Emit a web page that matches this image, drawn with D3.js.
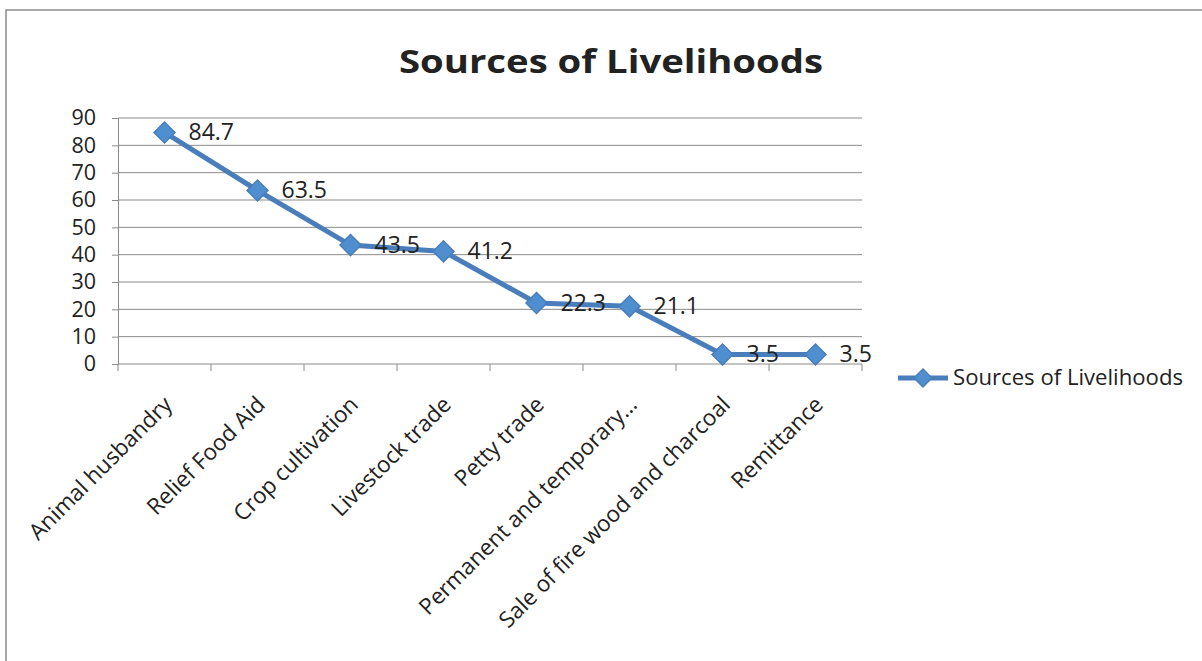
<!DOCTYPE html>
<html>
<head>
<meta charset="utf-8">
<script src="https://cdn.jsdelivr.net/npm/d3@7"></script>
<style>
  body { margin: 0; background: #fff; }
  svg { display: block; font-family: "Open Sans", "Noto Sans", sans-serif; }
</style>
</head>
<body>
<div id="chart"></div>
<script>
const categories = [
  'Animal husbandry', 'Relief Food Aid', 'Crop cultivation', 'Livestock trade',
  'Petty trade', 'Permanent and temporary…', 'Sale of fire wood and charcoal', 'Remittance'
];
const values = [84.7, 63.5, 43.5, 41.2, 22.3, 21.1, 3.5, 3.5];
const yTicks = [0, 10, 20, 30, 40, 50, 60, 70, 80, 90];
const seriesName = 'Sources of Livelihoods';

const width = 1202, height = 661;
const plot = { left: 118, right: 862, top: 118, bottom: 364 };
const blue = '#4a7ebb';

const svg = d3.select('#chart').append('svg')
  .attr('width', width)
  .attr('height', height);

// chart frame (only top/left edges are visible in the scan)
svg.append('path')
  .attr('d', `M6,661V10H1202`)
  .attr('fill', 'none')
  .attr('stroke', '#8c8c8c')
  .attr('stroke-width', 1.5);

svg.append('text')
  .attr('x', 611)
  .attr('y', 73)
  .attr('text-anchor', 'middle')
  .attr('font-size', 33)
  .attr('font-weight', 700)
  .attr('fill', '#222')
  .attr('textLength', 424)
  .attr('lengthAdjust', 'spacingAndGlyphs')
  .text('Sources of Livelihoods');

const x = d3.scaleBand().domain(categories).range([plot.left, plot.right]);
const y = d3.scaleLinear().domain([0, 90]).range([plot.bottom, plot.top]);

// gridlines
svg.append('g')
  .selectAll('line')
  .data(yTicks.filter(d => d > 0))
  .join('line')
  .attr('x1', plot.left)
  .attr('x2', plot.right)
  .attr('y1', d => y(d))
  .attr('y2', d => y(d))
  .attr('stroke', '#8a8a8a')
  .attr('stroke-width', 1);

// y axis
const yAxis = svg.append('g')
  .attr('transform', `translate(${plot.left},0)`)
  .call(d3.axisLeft(y).tickValues(yTicks).tickSize(6).tickPadding(16));
yAxis.select('.domain').attr('stroke', '#8a8a8a');
yAxis.selectAll('.tick line').attr('stroke', '#8a8a8a');
yAxis.selectAll('text')
  .attr('font-size', 21.5)
  .attr('fill', '#222')
  .attr('font-family', '"Open Sans", sans-serif');

// x axis: ticks between categories
const xAxis = svg.append('g')
  .attr('transform', `translate(0,${plot.bottom})`);
xAxis.append('line')
  .attr('x1', plot.left).attr('x2', plot.right)
  .attr('stroke', '#8a8a8a');
const boundaries = categories.map(c => x(c)).concat([plot.right]);
xAxis.selectAll('line.tk')
  .data(boundaries)
  .join('line')
  .attr('class', 'tk')
  .attr('x1', d => d).attr('x2', d => d)
  .attr('y1', 0).attr('y2', 7)
  .attr('stroke', '#8a8a8a');
xAxis.selectAll('text')
  .data(categories)
  .join('text')
  .attr('transform', d => `translate(${x(d) + x.bandwidth() / 2 + 9},${42}) rotate(-45)`)
  .attr('text-anchor', 'end')
  .attr('font-size', 22.5)
  .attr('fill', '#222')
  .text(d => d);

// series line
const cx = d => x(d.cat) + x.bandwidth() / 2;
const points = categories.map((cat, i) => ({ cat, v: values[i] }));

svg.append('path')
  .datum(points)
  .attr('fill', 'none')
  .attr('stroke', blue)
  .attr('stroke-width', 5)
  .attr('d', d3.line().x(cx).y(d => y(d.v)));

svg.append('g')
  .selectAll('path')
  .data(points)
  .join('path')
  .attr('transform', d => `translate(${cx(d)},${y(d.v)}) rotate(45)`)
  .attr('d', d3.symbol().type(d3.symbolSquare).size(220))
  .attr('fill', '#4f8fd0')
  .attr('stroke', blue)
  .attr('stroke-width', 1.5);

// data labels
svg.append('g')
  .selectAll('text')
  .data(points)
  .join('text')
  .attr('x', d => cx(d) + 24)
  .attr('y', d => y(d.v) + 8)
  .attr('font-size', 23)
  .attr('fill', '#222')
  .text(d => d.v);

// legend
const lg = svg.append('g').attr('transform', 'translate(898,378)');
lg.append('line')
  .attr('x1', 0).attr('x2', 50)
  .attr('stroke', blue)
  .attr('stroke-width', 5);
lg.append('path')
  .attr('transform', 'translate(25,0) rotate(45)')
  .attr('d', d3.symbol().type(d3.symbolSquare).size(160))
  .attr('fill', '#4f8fd0')
  .attr('stroke', blue)
  .attr('stroke-width', 1.5);
lg.append('text')
  .attr('x', 55)
  .attr('y', 7)
  .attr('font-size', 21)
  .attr('fill', '#222')
  .attr('textLength', 230)
  .attr('lengthAdjust', 'spacingAndGlyphs')
  .text(seriesName);
</script>
</body>
</html>
